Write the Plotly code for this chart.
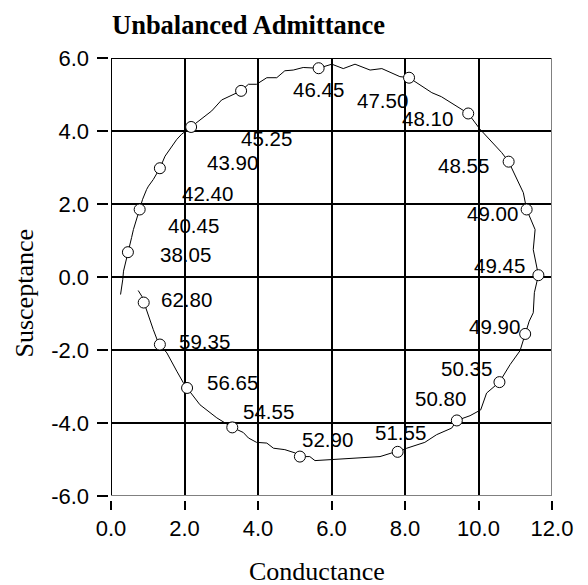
import plotly.graph_objects as go

# traced admittance locus (conductance, susceptance)
G_curve = [0.26, 0.29, 0.32, 0.34, 0.41, 0.46, 0.56, 0.61, 0.65, 0.78, 0.86, 0.97, 1.02, 1.15,
           1.33, 1.47, 1.65, 1.79, 1.92, 2.18, 2.51, 2.74, 3.01, 3.24, 3.54, 3.74, 3.96, 4.24,
           4.51, 4.73, 4.96, 5.23, 5.65, 6.01, 6.32, 6.64, 7.05, 7.37, 7.86, 8.11, 8.50, 8.73,
           8.99, 9.31, 9.72, 10.04, 10.31, 10.63, 10.82, 11.04, 11.22, 11.31, 11.54, 11.49,
           11.63, 11.52, 11.49, 11.38, 11.27, 11.13, 10.86, 10.57, 10.22, 10.06, 9.77, 9.41,
           9.27, 8.86, 8.54, 8.05, 7.80, 7.64, 7.32, 6.69, 6.01, 5.55, 5.41, 5.14, 5.01, 4.73,
           4.42, 4.24, 3.96, 3.74, 3.60, 3.30, 2.88, 2.65, 2.42, 2.07, 1.97, 1.79, 1.65, 1.52,
           1.33, 1.29, 1.15, 1.02, 0.97, 0.89, 0.84, 0.74]
B_curve = [-0.48, -0.30, -0.07, 0.16, 0.43, 0.68, 1.08, 1.30, 1.44, 1.85, 2.13, 2.40, 2.49, 2.67,
           2.98, 3.31, 3.59, 3.77, 3.91, 4.11, 4.37, 4.55, 4.85, 4.96, 5.10, 5.28, 5.28, 5.46,
           5.46, 5.65, 5.67, 5.74, 5.72, 5.83, 5.71, 5.83, 5.67, 5.71, 5.49, 5.46, 5.19, 5.05,
           4.94, 4.73, 4.48, 4.05, 3.77, 3.41, 3.16, 2.67, 2.31, 1.85, 1.30, 0.75,
           0.05, -0.43, -0.98, -1.21, -1.56, -2.02, -2.40, -2.88, -3.18, -3.64, -3.80, -3.93,
           -4.14, -4.32, -4.53, -4.69, -4.80, -4.82, -4.92, -4.96, -5.01, -5.03, -4.92, -4.92, -4.82, -4.73,
           -4.69, -4.55, -4.53, -4.41, -4.26, -4.12, -3.86, -3.68, -3.50, -3.04, -2.90, -2.58, -2.31, -2.08,
           -1.85, -1.81, -1.44, -1.07, -0.89, -0.70, -0.53, -0.37]

# labelled frequency points
freq = [38.05, 40.45, 42.40, 43.90, 45.25, 46.45, 47.50, 48.10, 48.55, 49.00,
        49.45, 49.90, 50.35, 50.80, 51.55, 52.90, 54.55, 56.65, 59.35, 62.80]
G_mark = [0.46, 0.78, 1.33, 2.18, 3.54, 5.65, 8.11, 9.72, 10.82, 11.31,
          11.63, 11.27, 10.57, 9.41, 7.80, 5.14, 3.30, 2.07, 1.33, 0.89]
B_mark = [0.68, 1.85, 2.98, 4.11, 5.10, 5.72, 5.46, 4.48, 3.16, 1.85,
          0.05, -1.56, -2.88, -3.93, -4.79, -4.92, -4.12, -3.04, -1.85, -0.70]

x_ticks = [0, 2, 4, 6, 8, 10, 12]
y_ticks = [-6, -4, -2, 0, 2, 4, 6]

# label placement (pixel offsets from the marker)
lbl_dx = [58, 54, 48, 41, 25, 0, -27, -41, -45, -34, -39, -31, -33, -16, 3, 28, 36, 45, 45, 43]
lbl_dy = [-2, -16, -25, -36, -48, -21, -23, -5, -4, -4, 10, 7, 14, 22, 19, 17, 16, 5, 3, 3]

# the page body has an 8px margin, so work in page pixels and shift
OFF = 8
W, H = 588 - OFF, 585 - OFF
ml, mr, mt, mb = 100 - OFF, 36, 58 - OFF, 80
pw, ph = W - ml - mr, H - mt - mb


def px_x(p):
    return (p - OFF - ml) / pw


def px_y(p):
    return (H - mb - (p - OFF)) / ph


sans = "Liberation Sans, Arial, sans-serif"
serif = "Liberation Serif, Times New Roman, serif"

fig = go.Figure()
fig.add_trace(go.Scatter(
    x=G_curve, y=B_curve, mode="lines",
    line=dict(color="black", width=1),
    showlegend=False, hoverinfo="skip",
))
fig.add_trace(go.Scatter(
    x=G_mark, y=B_mark, mode="markers",
    marker=dict(symbol="circle", size=11, color="white",
                line=dict(color="black", width=1)),
    showlegend=False,
))

for f, g, b, dx, dy in zip(freq, G_mark, B_mark, lbl_dx, lbl_dy):
    fig.add_annotation(x=g, y=b, text=f"{f:.2f}", showarrow=False,
                       xshift=dx, yshift=dy, xanchor="center", yanchor="middle",
                       font=dict(family=sans, size=20.5, color="black"))

# frame: black left/top, grey right/bottom
fig.add_shape(type="line", x0=0, x1=0, y0=-6, y1=6, xref="x", yref="y",
              line=dict(color="black", width=2), layer="above")
fig.add_shape(type="line", x0=0, x1=12, y0=6, y1=6, xref="x", yref="y",
              line=dict(color="black", width=2), layer="above")
fig.add_shape(type="line", x0=12, x1=12, y0=-6, y1=6, xref="x", yref="y",
              line=dict(color="#808080", width=2), layer="above")
fig.add_shape(type="line", x0=0, x1=12, y0=-6, y1=-6, xref="x", yref="y",
              line=dict(color="#808080", width=2), layer="above")

fig.update_xaxes(
    range=[0, 12], domain=[px_x(111), 1], automargin=False,
    tickvals=x_ticks, ticktext=[f"{v:.1f}" for v in x_ticks],
    ticks="outside", ticklen=9, tickwidth=2, tickcolor="black",
    showgrid=True, gridcolor="black", gridwidth=2,
    zeroline=False, showline=False,
    anchor="free", position=px_y(500),
    tickfont=dict(family=sans, size=22, color="black"),
)
fig.update_yaxes(
    range=[-6, 6], domain=[px_y(496), 1], automargin=False,
    tickvals=y_ticks, ticktext=[f"{v:.1f}" for v in y_ticks],
    ticks="outside", ticklen=11, tickwidth=2, tickcolor="black",
    showgrid=True, gridcolor="black", gridwidth=2,
    zeroline=False, showline=False,
    anchor="free", position=px_x(107.5), ticklabelstandoff=3,
    tickfont=dict(family=sans, size=22, color="black"),
)

fig.add_annotation(x=px_x(248.5), y=px_y(25), xref="paper", yref="paper",
                   xanchor="center", yanchor="middle",
                   text="<b>Unbalanced Admittance</b>", showarrow=False,
                   font=dict(family=serif, size=26.5, color="black"))
fig.add_annotation(x=px_x(316.7), y=px_y(571), xref="paper", yref="paper",
                   xanchor="center", yanchor="middle",
                   text="Conductance", showarrow=False,
                   font=dict(family=serif, size=26, color="black"))
fig.add_annotation(x=px_x(24), y=px_y(293.5), xref="paper", yref="paper",
                   xanchor="center", yanchor="middle",
                   text="Susceptance", showarrow=False, textangle=-90,
                   font=dict(family=serif, size=26, color="black"))

fig.update_layout(
    width=W, height=H,
    margin=dict(l=ml, r=mr, t=mt, b=mb),
    paper_bgcolor="white", plot_bgcolor="white",
    showlegend=False,
)

fig.write_html("out.html")
